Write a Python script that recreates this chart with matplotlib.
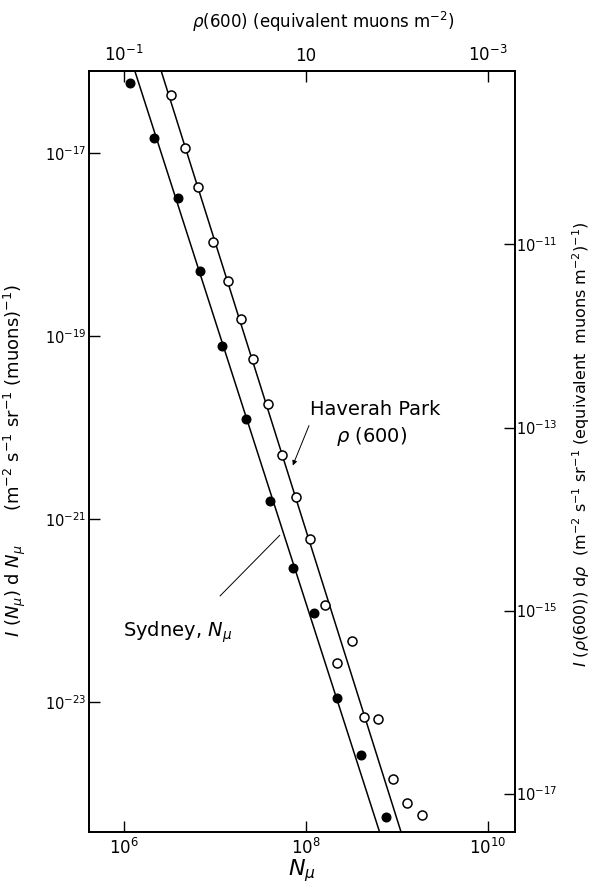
import numpy as np
import matplotlib
matplotlib.use("Agg")
import matplotlib.pyplot as plt

# (log10 values)
sydney_logN = [6.066, 6.333, 6.590, 6.835, 7.074, 7.341, 7.608, 7.854, 8.088, 8.344, 8.604, 8.879]
sydney_logI = [-16.232, -16.836, -17.492, -18.286, -19.109, -19.910, -20.800, -21.532, -22.024, -22.953, -23.583, -24.260]

haverah_logN = [6.513, 6.674, 6.816, 6.981, 7.140, 7.286, 7.414, 7.579, 7.733, 7.890, 8.044, 8.205,
                8.505, 8.341, 8.641, 8.791, 8.953, 9.107, 9.271]
haverah_logI = [-16.366, -16.942, -17.368, -17.969, -18.396, -18.811, -19.251, -19.746, -20.301, -20.760,
                -21.219, -21.940, -22.330, -22.571, -23.167, -23.189, -23.845, -24.107, -24.235]

# fitted lines, end points
sydney_fit_logN = [6.121, 8.805]
sydney_fit_logI = [-16.111, -24.410]
haverah_fit_logN = [6.414, 9.041]
haverah_fit_logI = [-16.122, -24.410]

bottom_ticks = [1e6, 1e8, 1e10]
bottom_labels = ['$10^6$', '$10^8$', '$10^{10}$']
top_ticks = [1e-1, 1e1, 1e3]
top_labels = ['$10^{-1}$', '10', '$10^{-3}$']
left_ticks = [1e-17, 1e-19, 1e-21, 1e-23]
left_labels = ['$10^{-17}$', '$10^{-19}$', '$10^{-21}$', '$10^{-23}$']
right_ticks = [1e-11, 1e-13, 1e-15, 1e-17]
right_labels = ['$10^{-11}$', '$10^{-13}$', '$10^{-15}$', '$10^{-17}$']

rho_factor = 1e-7   # rho(600) = N_mu * 1e-7

p = lambda v: 10 ** np.array(v)

fig = plt.figure(figsize=(5.95, 8.92), dpi=100)
ax = fig.add_axes([0.1496, 0.0673, 0.716, 0.8531])

xlim = (10 ** 5.615, 10 ** 10.297)
ylim = (10 ** -24.42, 10 ** -16.104)

ax.plot(p(sydney_fit_logN), p(sydney_fit_logI), color='black', lw=1.1)
ax.plot(p(haverah_fit_logN), p(haverah_fit_logI), color='black', lw=1.1)
ax.plot(p(sydney_logN), p(sydney_logI), 'o', color='black', ms=6.2, zorder=3)
ax.plot(p(haverah_logN), p(haverah_logI), 'o', mfc='white', mec='black', mew=1.1, ms=6.5, zorder=3)

ax.set_xscale('log')
ax.set_yscale('log')
ax.set_xlim(*xlim)
ax.set_ylim(*ylim)

ax.set_xticks(bottom_ticks)
ax.set_xticklabels(bottom_labels, fontsize=12)
ax.set_yticks(left_ticks)
ax.set_yticklabels(left_labels, fontsize=10.5)
ax.minorticks_off()
ax.tick_params(direction='in', length=8, width=1.0, pad=2)
ax.tick_params(axis='x', pad=4)
ax.set_xlabel(r'$N_\mu$', fontsize=16, labelpad=0)
ax.set_ylabel(r'$I$ ($N_\mu$) d $N_\mu$      (m$^{-2}$ s$^{-1}$ sr$^{-1}$ (muons)$^{-1}$)',
              fontsize=13)
ax.yaxis.set_label_coords(-0.143, 0.489)

# top axis: rho(600)
axt = ax.twiny()
axt.set_xscale('log')
axt.set_xlim(xlim[0] * rho_factor, xlim[1] * rho_factor)
axt.set_xticks(top_ticks)
axt.set_xticklabels(top_labels, fontsize=12)
axt.minorticks_off()
axt.tick_params(direction='in', length=8, width=1.0, pad=4)
axt.set_xlabel(r'$\rho$(600) (equivalent muons m$^{-2}$)', fontsize=12)
axt.xaxis.set_label_coords(0.549, 1.0565)

# right axis: I(rho) drho
axr = ax.twinx()
axr.set_yscale('log')
axr.set_ylim(ylim[0] / rho_factor, ylim[1] / rho_factor)
axr.set_yticks(right_ticks)
axr.set_yticklabels(right_labels, fontsize=10.5)
axr.minorticks_off()
axr.tick_params(direction='in', length=8, width=1.0, pad=1)
axr.set_ylabel(r'$I$ ($\rho$(600)) d$\rho$  (m$^{-2}$ s$^{-1}$ sr$^{-1}$ (equivalent  muons m$^{-2}$)$^{-1}$)',
               fontsize=11.5)
axr.yaxis.set_label_coords(1.13, 0.51)

for a in (ax, axt, axr):
    for s in a.spines.values():
        s.set_linewidth(1.1)

# annotations
ax.text(10 ** 8.76, 10 ** -19.80, 'Haverah Park', fontsize=14, ha='center', va='center')
ax.text(10 ** 8.72, 10 ** -20.10, r'$\rho$ (600)', fontsize=14, ha='center', va='center')
ax.annotate('', xy=(10 ** 7.843, 10 ** -20.443), xytext=(10 ** 8.044, 10 ** -19.951),
            arrowprops=dict(arrowstyle='-|>', color='black', lw=0.7, mutation_scale=7))

ax.text(10 ** 6.59, 10 ** -22.235, r'Sydney, $N_\mu$', fontsize=14, ha='center', va='center')
ax.annotate('', xy=(10 ** 7.733, 10 ** -21.156), xytext=(10 ** 7.033, 10 ** -21.863),
            arrowprops=dict(arrowstyle='-', color='black', lw=0.7))

fig.savefig('out.png', dpi=100)
